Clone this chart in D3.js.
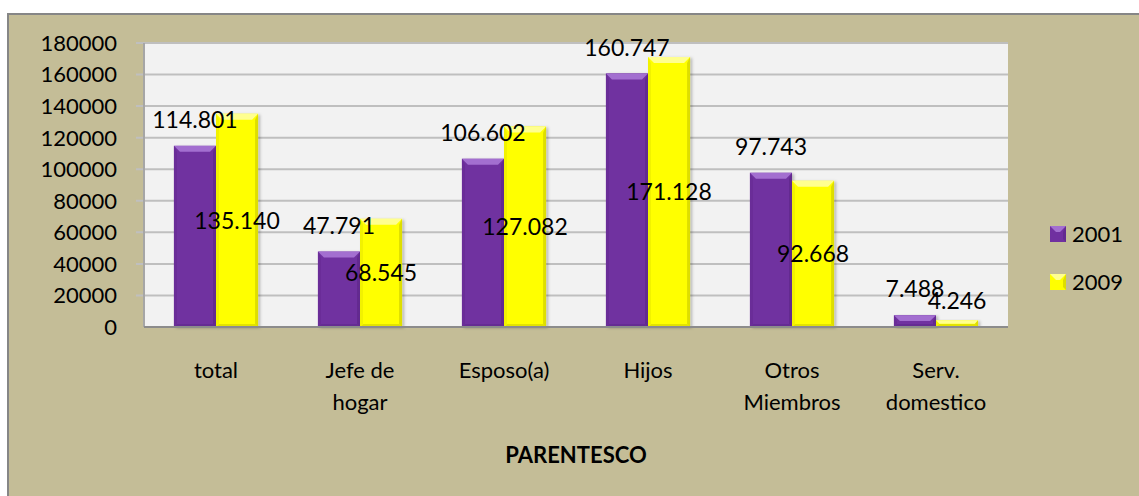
<!DOCTYPE html>
<html>
<head>
<meta charset="utf-8">
<script src="https://cdn.jsdelivr.net/npm/d3@7"></script>
<style>
    body { margin: 0; background: #fff; }
    svg text { font-family: Lato, "Open Sans", sans-serif; fill: #000; }
</style>
</head>
<body>
<svg width="1139" height="496"></svg>
<script>
// chart data
let categories = [['total'], ['Jefe de', 'hogar'], ['Esposo(a)'], ['Hijos'], ['Otros', 'Miembros'], ['Serv.', 'domestico']],
    series = ['2001', '2009'],
    values2001 = [114801, 47791, 106602, 160747, 97743, 7488],
    values2009 = [135140, 68545, 127082, 171128, 92668, 4246],
    yTicks = [0, 20000, 40000, 60000, 80000, 100000, 120000, 140000, 160000, 180000];

let colors = {'2001': {base: '#7030a0', light: '#a36fd0', dark: '#5a2585', side: '#6a2d98'},
              '2009': {base: '#ffff00', light: '#ffff90', dark: '#c8c800', side: '#f2f200'}};

let plot = {left: 144, right: 1008, top: 43, bottom: 327};

let fmt = d3.formatLocale({decimal: ',', thousands: '.', grouping: [3], currency: ['', '']}).format(',d');

let svg = d3.select('svg');

// outer frame
svg.append('rect')
    .attr('x', 8).attr('y', 14)
    .attr('width', 1200).attr('height', 600)
    .attr('fill', '#c4bd97')
    .attr('stroke', '#868686')
    .attr('stroke-width', 2);

let defs = svg.append('defs');
defs.append('filter')
    .attr('id', 'shadow')
    .attr('x', '-20%').attr('y', '-5%').attr('width', '150%').attr('height', '115%')
    .append('feDropShadow')
    .attr('dx', 2).attr('dy', 1).attr('stdDeviation', 1.5)
    .attr('flood-color', '#000').attr('flood-opacity', 0.25);

let xScale = d3.scaleBand()
    .domain(d3.range(categories.length))
    .range([plot.left, plot.right])
    .paddingInner(0.416)
    .paddingOuter(0.208);

let xSub = d3.scaleBand()
    .domain(series)
    .range([0, xScale.bandwidth()]);

let yScale = d3.scaleLinear()
    .domain([0, 180000])
    .range([plot.bottom, plot.top]);

// plot area
svg.append('rect')
    .attr('x', plot.left).attr('y', plot.top)
    .attr('width', plot.right - plot.left).attr('height', plot.bottom - plot.top)
    .attr('fill', '#f2f2f2');

// gridlines + tick stubs
svg.append('g')
    .selectAll('line')
    .data(yTicks.slice(1))
    .enter()
    .append('line')
    .attr('x1', plot.left - 8).attr('x2', plot.right)
    .attr('y1', d => yScale(d)).attr('y2', d => yScale(d))
    .attr('stroke', '#bfbfbf')
    .attr('stroke-width', 2);

svg.append('g')
    .selectAll('text')
    .data(yTicks)
    .enter()
    .append('text')
    .attr('x', 117)
    .attr('y', d => yScale(d))
    .attr('dy', '0.36em')
    .attr('text-anchor', 'end')
    .style('font-size', '22px')
    .text(d => d);

// left axis
svg.append('line')
    .attr('x1', plot.left).attr('x2', plot.left)
    .attr('y1', plot.top).attr('y2', plot.bottom)
    .attr('stroke', '#a6a6a6').attr('stroke-width', 2);

// bars
let rows = [];
categories.forEach((c, i) => {
    rows.push({cat: i, s: '2001', v: values2001[i]});
    rows.push({cat: i, s: '2009', v: values2009[i]});
});

let bars = svg.append('g')
    .selectAll('g')
    .data(rows)
    .enter()
    .append('g')
    .attr('transform', d => `translate(${xScale(d.cat) + xSub(d.s)},0)`);

bars.each(function(d) {
    let g = d3.select(this),
        w = xSub.bandwidth(),
        y0 = yScale(d.v),
        y1 = yScale(0),
        h = y1 - y0,
        b = Math.min(6, h / 2),
        s = Math.min(3, h / 2),
        c = colors[d.s];

    g.append('rect')
        .attr('x', 0).attr('y', y0)
        .attr('width', w).attr('height', h)
        .attr('fill', c.base)
        .attr('filter', 'url(#shadow)');
    // bevel: top / bottom / sides
    g.append('polygon')
        .attr('points', `0,${y0} ${w},${y0} ${w - b},${y0 + b} ${b},${y0 + b}`)
        .attr('fill', c.light);
    g.append('polygon')
        .attr('points', `0,${y1} ${w},${y1} ${w - s},${y1 - s} ${s},${y1 - s}`)
        .attr('fill', c.dark).attr('opacity', 0.5);
    g.append('polygon')
        .attr('points', `0,${y0} ${s},${y0 + b} ${s},${y1 - s} 0,${y1}`)
        .attr('fill', c.side);
    g.append('polygon')
        .attr('points', `${w},${y0} ${w - s},${y0 + b} ${w - s},${y1 - s} ${w},${y1}`)
        .attr('fill', c.dark).attr('opacity', 0.6);
});

// bottom axis
svg.append('line')
    .attr('x1', plot.left).attr('x2', plot.right)
    .attr('y1', plot.bottom).attr('y2', plot.bottom)
    .attr('stroke', '#8c8c8c').attr('stroke-width', 2);

// data labels: 2001 outside end, 2009 centered
svg.append('g')
    .selectAll('text')
    .data(rows)
    .enter()
    .append('text')
    .attr('x', d => xScale(d.cat) + xSub(d.s) + xSub.bandwidth() / 2)
    .attr('y', d => d.s === '2001' ? yScale(d.v) - 26 : Math.min(yScale(d.v / 2), yScale(0) - 26))
    .attr('dy', '0.36em')
    .attr('text-anchor', 'middle')
    .style('font-size', '23px')
    .text(d => fmt(d.v));

// category labels
let catLabels = svg.append('g')
    .selectAll('text')
    .data(categories)
    .enter()
    .append('text')
    .attr('x', (d, i) => xScale(i) + xScale.bandwidth() / 2)
    .attr('y', 370)
    .attr('text-anchor', 'middle')
    .style('font-size', '22px');

catLabels.selectAll('tspan')
    .data(d => d)
    .enter()
    .append('tspan')
    .attr('x', function() { return d3.select(this.parentNode).attr('x'); })
    .attr('dy', (d, i) => i === 0 ? '0.36em' : 32)
    .text(d => d);

svg.append('text')
    .attr('x', (plot.left + plot.right) / 2)
    .attr('y', 455)
    .attr('dy', '0.36em')
    .attr('text-anchor', 'middle')
    .style('font-size', '22px')
    .style('font-weight', 'bold')
    .text('PARENTESCO');

// legend
let legend = svg.selectAll('.legend')
    .data(series)
    .enter()
    .append('g')
    .attr('class', 'legend')
    .attr('transform', (d, i) => `translate(1050,${226 + i * 48})`);

legend.append('rect')
    .attr('width', 16).attr('height', 16)
    .attr('fill', d => colors[d].base);

legend.append('polygon')
    .attr('points', '0,0 16,0 10,6 6,6')
    .attr('fill', d => colors[d].light);

legend.append('polygon')
    .attr('points', '16,0 16,16 13,13 13,6')
    .attr('fill', d => colors[d].dark).attr('opacity', 0.6);

legend.append('text')
    .attr('x', 22)
    .attr('y', 8)
    .attr('dy', '0.36em')
    .style('font-size', '22px')
    .text(d => d);
</script>
</body>
</html>
